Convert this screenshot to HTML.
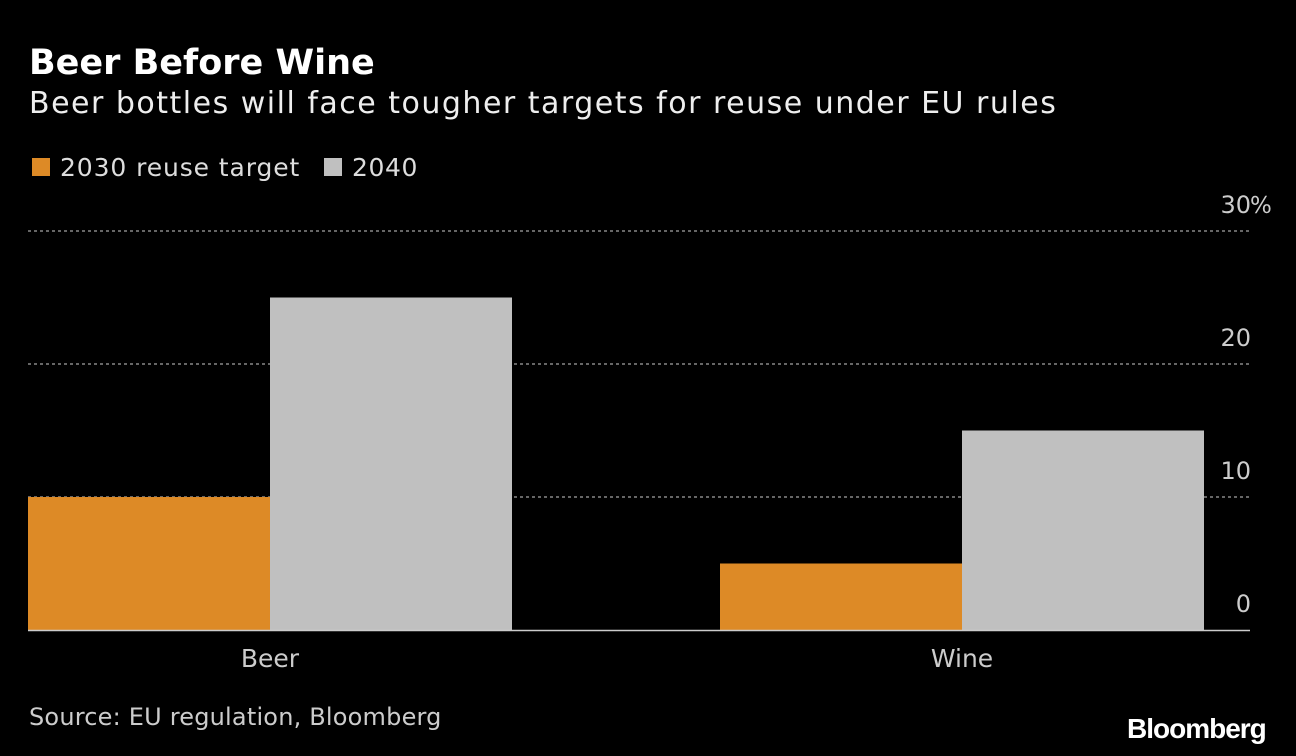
<!DOCTYPE html>
<html><head><meta charset="utf-8"><style>
body{margin:0;background:#000;width:1296px;height:756px;overflow:hidden;font-family:"DejaVu Sans","Liberation Sans",sans-serif;color:#fff}
.t{position:absolute;white-space:nowrap}
</style></head><body>
<div class="t" style="left:29px;top:43px;font-size:35px;font-weight:bold">Beer Before Wine</div>
<div class="t" style="left:29px;top:86px;font-size:30px;letter-spacing:1.5px;color:#eee">Beer bottles will face tougher targets for reuse under EU rules</div>
<div class="t" style="left:32px;top:153px;font-size:25px;letter-spacing:0.9px;color:#ddd"><span style="display:inline-block;width:18px;height:18px;background:#dd8a26;margin-right:10px"></span>2030 reuse target</div>
<div class="t" style="left:324px;top:153px;font-size:25px;letter-spacing:0.6px;color:#ddd"><span style="display:inline-block;width:18px;height:18px;background:#c0c0c0;margin-right:10px"></span>2040</div>
<svg id="c" width="1296" height="756" style="position:absolute;left:0;top:0;font-family:'DejaVu Sans',sans-serif"></svg>
<div class="t" style="left:29px;top:703px;font-size:24px;letter-spacing:0.2px;color:#ccc">Source: EU regulation, Bloomberg</div>
<div class="t" style="left:1127px;top:713px;font-family:'Liberation Sans',sans-serif;font-size:28px;font-weight:bold;letter-spacing:-1px">Bloomberg</div>
<script>
const categories=["Beer","Wine"];
const s2030=[10,5];
const s2040=[25,15];
const ticks=[0,10,20,30];
const tickLabels=["0","10","20","30"];
const svg=document.getElementById('c');
const NS="http://www.w3.org/2000/svg";
const y0=630,pxPer=13.3;
const y=v=>y0-v*pxPer;
const groupX=[28,720],bw=242;
function mk(t,a){const e=document.createElementNS(NS,t);for(const k in a)e.setAttribute(k,a[k]);svg.appendChild(e);return e;}
ticks.forEach((v,i)=>{
 if(v>0){const l=mk('line',{x1:28,x2:1250,y1:y(v),y2:y(v),stroke:'#888','stroke-dasharray':'3,3','stroke-width':1.5});
 }
 const t=mk('text',{x:1251,y:y(v)-18,'text-anchor':'end','font-size':24,fill:'#ccc'});t.textContent=tickLabels[i];
 
 if(i===ticks.length-1){const p=mk('text',{x:1250,y:y(v)-18,'font-size':23,fill:'#ccc'});p.textContent='%';
 }
});
categories.forEach((c,i)=>{
 const gx=groupX[i];
 const a=mk('rect',{x:gx,y:y(s2030[i]),width:bw,height:y0-y(s2030[i]),fill:'#dd8a26'});
 
 const b=mk('rect',{x:gx+bw,y:y(s2040[i]),width:bw,height:y0-y(s2040[i]),fill:'#c0c0c0'});
 
 const t=mk('text',{x:gx+bw,y:667,'text-anchor':'middle','font-size':25,fill:'#ccc'});t.textContent=c;
 
});
const base=mk('line',{x1:28,x2:1250,y1:y0+0.5,y2:y0+0.5,stroke:'#ccc','stroke-width':1.5});

</script>
</body></html>
